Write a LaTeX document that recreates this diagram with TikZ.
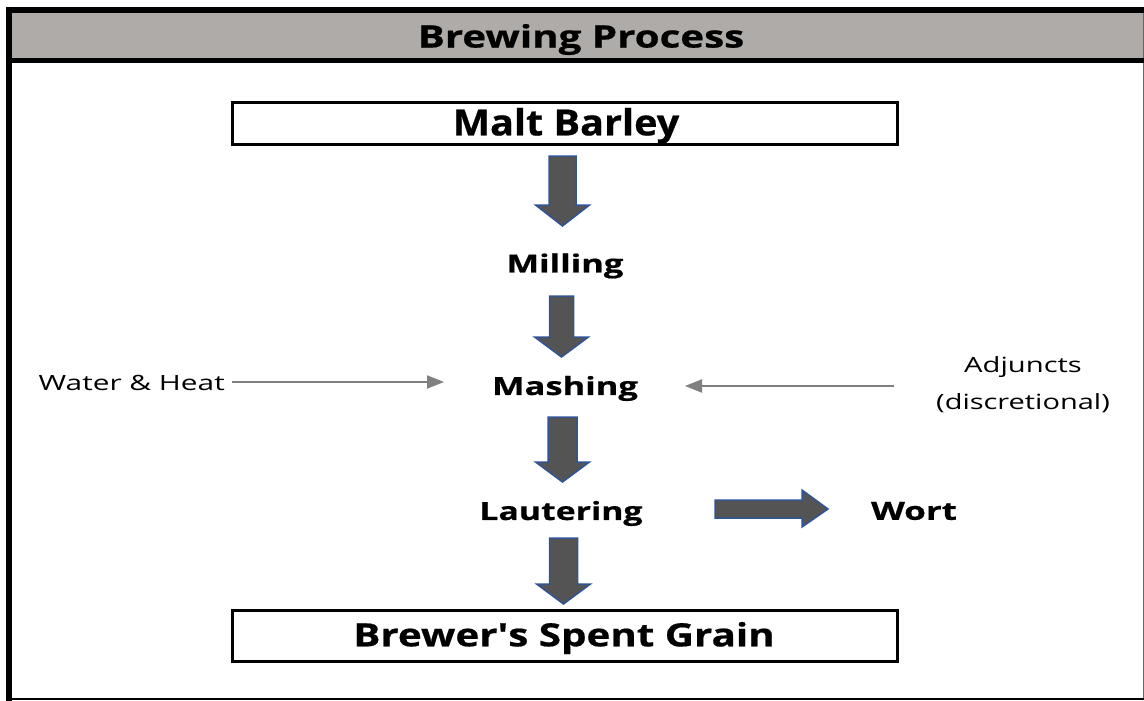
\documentclass[tikz,border=0pt]{standalone}
\usepackage{fontspec}
\setmainfont{Open Sans}[BoldFeatures={FakeBold=0.6}]
\usetikzlibrary{arrows.meta}
\definecolor{hdrgray}{HTML}{AFABA8}
\definecolor{arrfill}{HTML}{545454}
\definecolor{arrblue}{HTML}{2F5597}
\definecolor{thingray}{HTML}{808080}
\newcommand{\sx}[2]{\scalebox{#1}[1]{#2}}
\tikzset{
  boxstyle/.style={draw=black, line width=3pt, minimum width=665pt, minimum height=41pt, inner sep=0pt},
  steplabel/.style={font=\fontsize{25}{28}\selectfont\bfseries, inner sep=0pt},
  sidelabel/.style={font=\fontsize{21}{37}\selectfont, inner sep=0pt, align=center},
  blockarrow/.style={fill=arrfill, draw=arrblue, line width=1.5pt, line join=miter},
  thinarrow/.style={draw=thingray, line width=2pt, -{Triangle[length=17pt,width=13pt]}},
}
\newcommand{\downarrowblk}[5]{% xc, top, headstart, tip, halfshaft
  \path[blockarrow] (#1-#5,-#2) -- (#1+#5,-#2) -- (#1+#5,-#3) -- (#1+27,-#3) -- (#1,-#4) -- (#1-27,-#3) -- (#1-#5,-#3) -- cycle;}
\begin{document}
\begin{tikzpicture}[x=1pt,y=1pt]
\useasboundingbox (0,0) rectangle (1144,-701);
% frame
\fill[hdrgray] (9,-10) rectangle (1144,-60);
\draw[line width=1pt, black!60] (1143,-10) -- (1143,-699);
\draw[line width=2pt] (9,-698.5) -- (1144,-698.5);
\draw[line width=5pt] (9,-60.5) -- (1144,-60.5);
\draw[line width=6pt] (6,-10) -- (1144,-10);
\draw[line width=6pt] (9,-7) -- (9,-701);
\node[font=\fontsize{31}{34}\selectfont\bfseries, inner sep=0pt] (title) at (581,-39.5) {\sx{1.3}{Brewing Process}};
% boxes
\node[boxstyle] (malt) at (564.5,-123.5) {};
\node[font=\fontsize{36}{38}\selectfont\bfseries, inner sep=0pt] (maltt) at (566,-126) {\sx{1.1}{Malt Barley}};
\node[boxstyle, minimum height=51pt] (bsg) at (565,-635.5) {};
\node[font=\fontsize{32}{36}\selectfont\bfseries, inner sep=0pt] (bsgt) at (564,-638) {\sx{1.26}{Brewer\textquotesingle s Spent Grain}};
% steps
\node[steplabel] (milling) at (565,-266) {\sx{1.38}{Milling}};
\node[steplabel] (mashing) at (565,-388.5) {\sx{1.38}{Mashing}};
\node[steplabel] (lautering) at (561,-513.5) {\sx{1.35}{Lautering}};
\node[steplabel] (wort) at (914,-511) {\sx{1.4}{Wort}};
% side inputs
\node[sidelabel, anchor=east] (water) at (225,-382.5) {\sx{1.42}{Water \& Heat}};
\node[sidelabel] (adj) at (1023,-384.5) {\sx{1.39}{Adjuncts}\\\sx{1.38}{(discretional)}};
\coordinate (wstart) at (232,-382);
\coordinate (wend) at (444,-382);
\coordinate (astart) at (894,-386);
\coordinate (aend) at (685,-386);
\draw[thinarrow] (wstart) -- (wend);
\draw[thinarrow] (astart) -- (aend);
% block arrows
\downarrowblk{562.5}{156}{205}{226}{13.5}
\downarrowblk{561.5}{296}{337}{357}{12}
\downarrowblk{562.5}{417}{462}{482}{14.5}
\downarrowblk{563.5}{538}{584}{604}{14}
\path[blockarrow] (715,-500) -- (802,-500) -- (802,-490) -- (828,-509) -- (802,-527) -- (802,-518) -- (715,-518) -- cycle;
\end{tikzpicture}
\end{document}
